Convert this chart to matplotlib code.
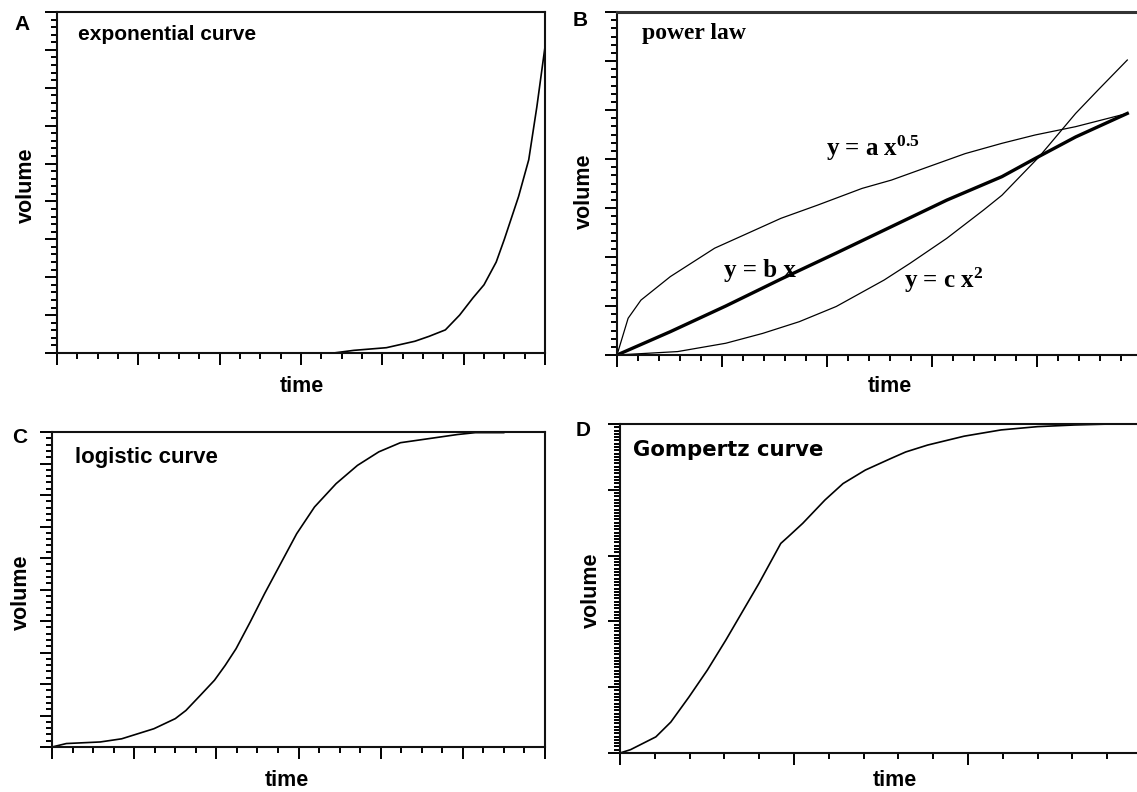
import matplotlib
matplotlib.use("Agg")
import matplotlib.pyplot as plt
from matplotlib.ticker import MultipleLocator, NullFormatter

plt.rcParams['mathtext.fontset'] = 'custom'
plt.rcParams['mathtext.rm'] = 'Liberation Serif:bold'
plt.rcParams['mathtext.it'] = 'Liberation Serif:bold'
plt.rcParams['mathtext.bf'] = 'Liberation Serif:bold'
plt.rcParams['mathtext.default'] = 'rm'

# ---------------- data ----------------
# A: exponential curve
exp_x = [0, 13.6, 14.6, 16.2, 17.6, 18.3, 19.1, 19.8, 20.45, 21.0, 21.6, 22.0, 22.7,
         23.2, 23.6, 24.0]
exp_y = [0, 0, 0.07, 0.14, 0.31, 0.44, 0.61, 1.0, 1.45, 1.8, 2.4, 3.0, 4.13,
         5.1, 6.5, 8.08]

# B: power law curves
pow_b_x = [0, 2.54, 5.18, 7.81, 10.44, 13.07, 15.70, 18.33, 19.91, 21.84, 24.3]
pow_b_y = [0, 0.476, 1.00, 1.55, 2.08, 2.62, 3.16, 3.64, 4.01, 4.45, 4.93]
pow_a_x = [0, 0.53, 1.14, 2.54, 4.65, 6.05, 7.81, 9.56, 11.67, 13.07, 14.82, 16.58,
           18.33, 19.91, 21.84, 24.3]
pow_a_y = [0, 0.75, 1.12, 1.60, 2.18, 2.45, 2.79, 3.06, 3.40, 3.57, 3.84, 4.11,
           4.32, 4.49, 4.66, 4.93]
pow_c_x = [0, 2.89, 5.18, 6.93, 8.68, 10.44, 12.72, 13.95, 15.70, 17.46, 18.33,
           20.09, 21.84, 22.89, 24.3]
pow_c_y = [0, 0.07, 0.24, 0.44, 0.68, 0.99, 1.53, 1.87, 2.38, 2.96, 3.26,
           4.04, 4.93, 5.40, 6.02]

# C: logistic curve
log_x = [0, 0.70, 2.35, 3.39, 4.96, 6.0, 6.52, 7.22, 7.91, 8.43, 8.96, 9.65, 10.35,
         11.22, 11.91, 12.78, 13.83, 14.87, 15.91, 16.96, 18.35, 19.74, 20.61, 21.99]
log_y = [0, 0.11, 0.16, 0.26, 0.58, 0.90, 1.16, 1.64, 2.12, 2.59, 3.12, 3.97, 4.87,
         5.93, 6.77, 7.62, 8.36, 8.94, 9.37, 9.66, 9.79, 9.92, 9.98, 9.98]

# D: Gompertz curve
gom_x = [0, 0.30, 1.03, 1.46, 1.98, 2.51, 3.04, 3.57, 3.99, 4.62, 4.83, 5.25, 5.89,
         6.41, 7.05, 7.78, 8.21, 8.84, 9.89, 10.95, 12.0, 13.06, 14.11]
gom_y = [0, 1.0, 4.9, 9.4, 17.0, 25.2, 34.3, 43.9, 51.5, 63.7, 65.7, 69.8, 76.9,
         81.9, 86.0, 89.5, 91.5, 93.6, 96.3, 98.2, 99.2, 99.7, 100]

panel_letters = ["A", "B", "C", "D"]
panel_titles = ["exponential curve", "power law", "logistic curve", "Gompertz curve"]
eq_labels = [r"y = a x$^{0.5}$", "y = b x", r"y = c x$^{2}$"]
x_label = "time"
y_label = "volume"

# ---------------- figure ----------------
W, H = 1137, 792
fig = plt.figure(figsize=(W / 100, H / 100), dpi=100)


def box(l, r, t, b):
    return [l / W, 1 - b / H, (r - l) / W, (b - t) / H]


def style(ax, xmax, xmaj, xmin, ymax, ymaj, ymin):
    ax.set_xlim(0, xmax)
    ax.set_ylim(0, ymax)
    ax.xaxis.set_major_locator(MultipleLocator(xmaj))
    ax.xaxis.set_minor_locator(MultipleLocator(xmin))
    ax.yaxis.set_major_locator(MultipleLocator(ymaj))
    ax.yaxis.set_minor_locator(MultipleLocator(ymin))
    ax.xaxis.set_major_formatter(NullFormatter())
    ax.yaxis.set_major_formatter(NullFormatter())
    ax.tick_params(which='both', direction='out', top=False, right=False,
                   width=1.4, color='black')
    ax.tick_params(which='major', length=8.5)
    ax.tick_params(which='minor', length=4.5)
    for s in ax.spines.values():
        s.set_linewidth(1.5)
        s.set_color('#111111')


def pix(x, y):
    return x / W, 1 - y / H


# Panel A
axA = fig.add_axes(box(57, 545, 12, 353))
style(axA, 24, 4, 1, 9, 1, 0.2)
axA.plot(exp_x, exp_y, color='black', lw=1.2)

# Panel B
axB = fig.add_axes(box(617, 1142, 12, 355))
style(axB, 25, 5, 1, 7, 1, 1 / 6)
axB.spines['top'].set_linewidth(2.2)
axB.spines['top'].set_color('#333333')
axB.plot(pow_a_x, pow_a_y, color='black', lw=0.9)
axB.plot(pow_c_x, pow_c_y, color='black', lw=0.9)
axB.plot(pow_b_x, pow_b_y, color='black', lw=2.4)

# Panel C
axC = fig.add_axes(box(52, 545, 432, 747))
style(axC, 24, 4, 1, 10, 1, 0.2)
axC.plot(log_x, log_y, color='black', lw=1.2)

# Panel D
axD = fig.add_axes(box(620, 1142, 424, 753))
style(axD, 15, 5, 1, 100, 20, 1)
axD.plot(gom_x, gom_y, color='black', lw=1.2)

sans = ['Liberation Sans', 'DejaVu Sans']
serif = ['Liberation Serif', 'DejaVu Serif']

# panel letters
for (px, py), lab in zip([(22, 25), (580, 21), (20, 438), (583, 431)], panel_letters):
    fig.text(*pix(px, py), lab, ha='center', va='center', fontsize=15,
             fontweight='bold', family=sans)

# panel titles
fig.text(*pix(78, 34), panel_titles[0], ha='left', va='center', fontsize=15,
         fontweight='bold', family=sans)
fig.text(*pix(642, 33), panel_titles[1], ha='left', va='center', fontsize=17,
         fontweight='bold', family=serif)
fig.text(*pix(75, 458), panel_titles[2], ha='left', va='center', fontsize=16,
         fontweight='bold', family=sans)
fig.text(*pix(633, 450), panel_titles[3], ha='left', va='center', fontsize=15.3,
         fontweight='bold', family=['DejaVu Sans'])

# equations in panel B
fig.text(*pix(826, 148), eq_labels[0], ha='left', va='center', fontsize=18,
         fontweight='bold', family=serif)
fig.text(*pix(724, 271), eq_labels[1], ha='left', va='center', fontsize=18,
         fontweight='bold', family=serif)
fig.text(*pix(904, 280), eq_labels[2], ha='left', va='center', fontsize=18,
         fontweight='bold', family=serif)

# axis labels
for (px, py) in [(302, 387), (890, 387), (287, 780), (895, 780)]:
    fig.text(*pix(px, py), x_label, ha='center', va='center', fontsize=15.5,
             fontweight='bold', family=sans)
for (px, py) in [(26, 185), (584, 191), (21, 592), (591, 590)]:
    fig.text(*pix(px, py), y_label, ha='center', va='center', fontsize=15.5,
             fontweight='bold', family=sans, rotation=90)

fig.savefig("out.png", dpi=100)
